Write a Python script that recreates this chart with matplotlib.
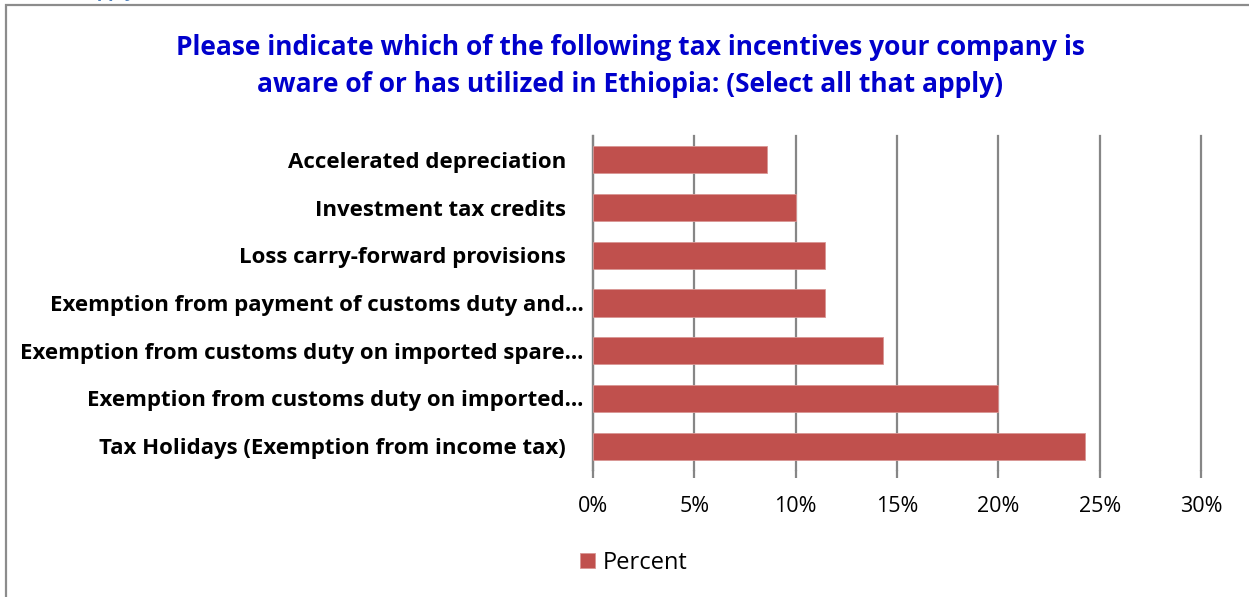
import matplotlib
matplotlib.use("Agg")
import matplotlib.pyplot as plt
from matplotlib.patches import Rectangle
from matplotlib.ticker import FuncFormatter

# Survey responses, listed top to bottom as they appear on the chart
categories = [
    "Accelerated depreciation   ",
    "Investment tax credits   ",
    "Loss carry-forward provisions   ",
    "Exemption from payment of customs duty and\u2026",
    "Exemption from customs duty on imported spare\u2026",
    "Exemption from customs duty on imported\u2026",
    "Tax Holidays (Exemption from income tax)   ",
]
percent = [8.57, 10.0, 11.43, 11.43, 14.29, 20.0, 24.29]
x_ticks = [0, 5, 10, 15, 20, 25, 30]
series_name = "Percent"
title = ("Please indicate which of the following tax incentives your company is\n"
         "aware of or has utilized in Ethiopia: (Select all that apply)")

FONT = "Open Sans"
W, H = 1249, 597
fig = plt.figure(figsize=(W / 100, H / 100), dpi=100)
fig.patch.set_facecolor("white")

# outer chart frame (right and bottom edges run past the image)
fig.patches.append(Rectangle((6 / W, -0.1), 1.2, 1.1 - 5 / H,
                             transform=fig.transFigure, fill=False,
                             edgecolor="#8c8c8c", linewidth=1.6, zorder=0))
# remnant of the heading above the chart
fig.text(86 / W, 1 + 3 / H, "apply)", color="#4f81bd", fontsize=13,
         fontfamily=FONT, fontweight="bold", ha="left", va="baseline")

left, right = 593 / W, 1201 / W
top, bottom = 1 - 136 / H, 1 - 470 / H
ax = fig.add_axes([left, bottom, right - left, top - bottom])

ypos = list(range(len(categories)))
ax.barh(ypos, percent, height=0.57, color="#c0504d", edgecolor="#d99694",
        linewidth=0.6, label=series_name, zorder=3)
ax.set_ylim(len(categories) - 0.5, -0.5)
ax.set_xlim(0, 30)
ax.set_xticks(x_ticks)
ax.xaxis.set_major_formatter(FuncFormatter(lambda v, p: f"{v:.0f}%"))
ax.grid(axis="x", color="#868686", linewidth=1.6, zorder=0)
ax.set_axisbelow(True)
for gl in ax.get_xgridlines():
    gl.set_clip_on(False)

for s in ["top", "right", "bottom"]:
    ax.spines[s].set_visible(False)
ax.spines["left"].set_color("#868686")
ax.spines["left"].set_linewidth(1.6)

ax.set_yticks(ypos)
ax.set_yticklabels(categories, fontfamily=FONT, fontweight="bold",
                   fontsize=16, color="black")
ax.tick_params(axis="y", length=0, pad=7)
ax.tick_params(axis="x", length=6, width=1.6, color="#868686", pad=13,
               labelsize=15.5, labelcolor="black")
for lbl in ax.get_xticklabels():
    lbl.set_fontfamily(FONT)

fig.text(630 / W, 1 - 66 / H, title, ha="center", va="center",
         fontsize=19, fontweight="bold", color="#0000cc", fontfamily=FONT,
         linespacing=1.45)

leg = fig.legend(loc="center", bbox_to_anchor=(634 / W, 1 - 563 / H),
                 frameon=False, prop={"family": FONT, "size": 17},
                 handlelength=0.6, handleheight=0.6, handletextpad=0.35)

fig.savefig("out.png", dpi=100, facecolor="white")
